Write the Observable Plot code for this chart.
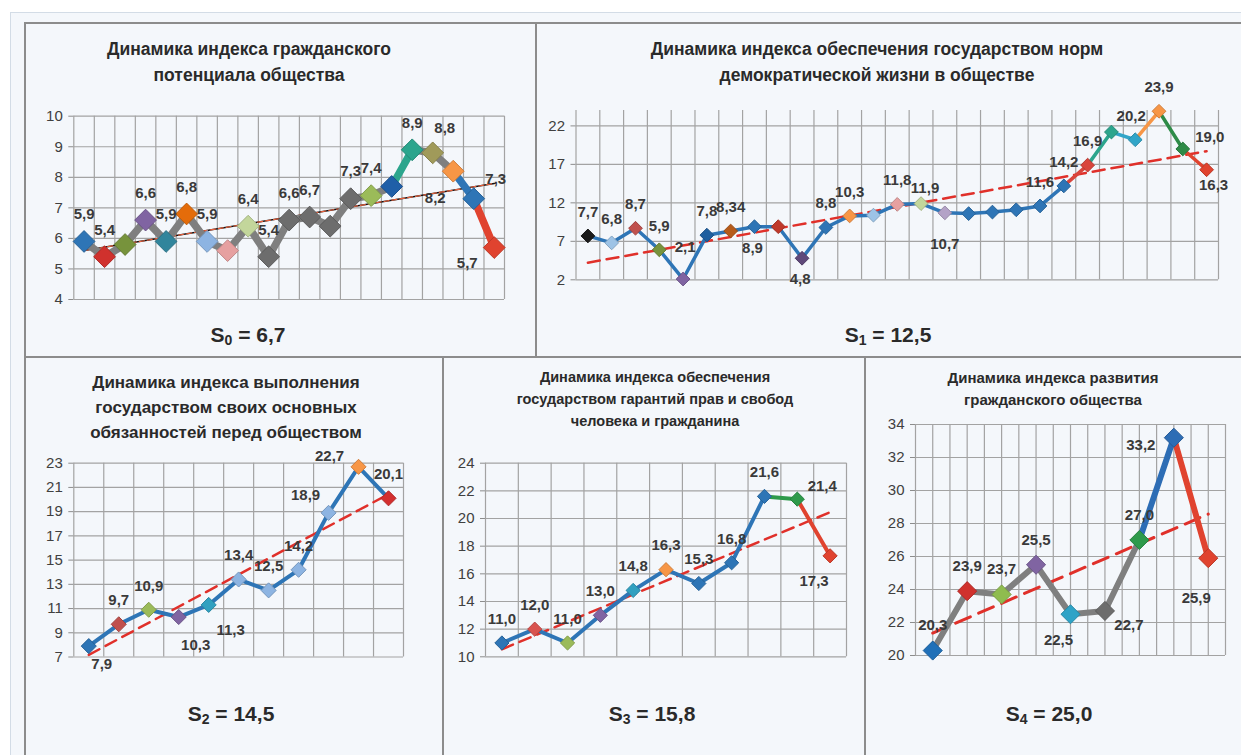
<!DOCTYPE html>
<html>
<head>
<meta charset="utf-8">
<script src="https://cdn.jsdelivr.net/npm/d3@7"></script>
<script src="https://cdn.jsdelivr.net/npm/@observablehq/plot@0.6"></script>
<style>
  body { margin: 0; background: #fff; font-family: "Liberation Sans", Arial, sans-serif; }
  #board { position: relative; width: 1241px; height: 755px; overflow: hidden; }
  .sheet { position: absolute; left: 10px; top: 12px; right: 0; bottom: 0; background: #f4f7fb;
           border-left: 1px solid #d3dce6; border-top: 1px solid #d3dce6; }
  .rule { position: absolute; background: #8c8c8c; }
  .title { position: absolute; transform: translateX(-50%); text-align: center; font-weight: bold;
           color: #2a2a2a; white-space: nowrap; }
  .score { position: absolute; transform: translate(-50%, -50%); font-weight: bold; font-size: 21px;
           color: #2a2a2a; white-space: nowrap; }
  .score sub { font-size: 14px; vertical-align: -3px; }
  .chart { position: absolute; }
</style>
</head>
<body>
<div id="board"><div class="sheet"></div></div>
<script>
// ---- Index values -------------------------------------------------------
const civicPotential   = [5.9, 5.4, 5.8, 6.6, 5.9, 6.8, 5.9, 5.6, 6.4, 5.4, 6.6, 6.7, 6.4, 7.3, 7.4, 7.7, 8.9, 8.8, 8.2, 7.3, 5.7];
const democraticNorms  = [7.7, 6.8, 8.7, 5.9, 2.1, 7.8, 8.34, 8.9, 8.9, 4.8, 8.8, 10.3, 10.4, 11.8, 11.9, 10.7, 10.6, 10.8, 11.1, 11.6, 14.2, 16.9, 21.2, 20.2, 23.9, 19.0, 16.3];
const stateDuties      = [7.9, 9.7, 10.9, 10.3, 11.3, 13.4, 12.5, 14.2, 18.9, 22.7, 20.1];
const rightsGuarantees = [11.0, 12.0, 11.0, 13.0, 14.8, 16.3, 15.3, 16.8, 21.6, 21.4, 17.3];
const civilSociety     = [20.3, 23.9, 23.7, 25.5, 22.5, 22.7, 27.0, 33.2, 25.9];

// ---- Axis ticks ---------------------------------------------------------
const ticksCivic    = [4, 5, 6, 7, 8, 9, 10];
const ticksNorms    = [2, 7, 12, 17, 22];
const ticksDuties   = [7, 9, 11, 13, 15, 17, 19, 21, 23];
const ticksRights   = [10, 12, 14, 16, 18, 20, 22, 24];
const ticksSociety  = [20, 22, 24, 26, 28, 30, 32, 34];

// ---- Titles and summary scores -----------------------------------------
const titleCivic   = ["Динамика индекса гражданского", "потенциала общества"];
const titleNorms   = ["Динамика индекса обеспечения государством норм", "демократической жизни в обществе"];
const titleDuties  = ["Динамика индекса выполнения", "государством своих основных", "обязанностей перед обществом"];
const titleRights  = ["Динамика индекса обеспечения", "государством гарантий прав и свобод", "человека и гражданина"];
const titleSociety = ["Динамика индекса развития", "гражданского общества"];
const scoreNames   = ["0", "1", "2", "3", "4"];
const scoreValues  = ["6,7", "12,5", "14,5", "15,8", "25,0"];

// ---- Marker and segment colours ----------------------------------------
const B = "#2e75b6", G = "#7f7f7f", R = "#e0432f";
const markersCivic = ["#2e75b6", "#d0312d", "#77933c", "#8064a2", "#31859c", "#e46c0a", "#8db4e2", "#e6a0a0", "#c3d69b",
  "#6d6d6d", "#6d6d6d", "#6d6d6d", "#6d6d6d", "#6d6d6d", "#9bbb59", "#1f5fa8", "#2ca58d", "#a09a5a", "#f79646", "#2e75b6", R];
const segmentsCivic = [G, G, G, G, G, G, G, G, G, G, G, G, G, G, G, "#2ca58d", G, G, B, R];
const markersNorms = ["#1a1a1a", "#9dc3e6", "#c0504d", "#77933c", "#8064a2", "#1f5f9f", "#b65b1a", B, "#c0392b", "#5f497a",
  B, "#f79646", "#9dc3e6", "#e6a0a0", "#c3d69b", "#b3a2c7", B, B, B, B, B, "#d9453c", "#2ca58d", "#31a5c8", "#f79646", "#2e8b47", R];
const segmentsNorms = [B, B, B, B, B, B, B, B, B, B, B, B, B, B, B, B, B, B, B, B, "#d9453c", "#2ca58d", "#31a5c8", "#f79646", "#2e8b47", R];
const markersDuties = [B, "#c0504d", "#9bbb59", "#8064a2", "#31a0c0", "#8db4e2", "#8db4e2", "#8db4e2", "#8db4e2", "#f79646", "#d32f2f"];
const segmentsDuties = [B, B, B, B, B, B, B, B, B, B];
const markersRights = [B, "#d9534f", "#9bbb59", "#8064a2", "#31a0c0", "#f79646", B, B, B, "#2e9a4b", R];
const segmentsRights = [B, B, B, B, B, B, B, B, "#2e9a4b", R];
const markersSociety = ["#2070b8", "#d0312d", "#8fbc4f", "#8064a2", "#2ea3c7", "#6d6d6d", "#2e9a4b", "#2d6db5", R];
const segmentsSociety = [G, G, G, G, G, G, "#2d6db5", R];

// ---- Value label placement (code per point, "" = no label) -------------
const placeCivic   = ["t","t","","t","t","t","t","","t","t","t","t","","t","t","","t","tr","bl","r","l"];
const placeNorms   = ["t","t","t","t","T","t","t","b","","b","t","t","","t","tt","B","","","","t","t","t","","tl","t","r","br"];
const placeDuties  = ["br","t","t","br2","br3","t","t","t","tl","l","t"];
const placeRights  = ["t","t","t","t","t","t","t","t","t","tr","bl"];
const placeSociety = ["t","t","t","t","bl","br","t","l","B"];

const FONT = '"Liberation Sans", Arial, sans-serif';
const GRID = "#a3a3a3";
const fmt = v => (Math.abs(v * 10 - Math.round(v * 10)) < 1e-9 ? v.toFixed(1) : String(v)).replace(".", ",");
const board = document.getElementById("board");

function drawPanel(p) {
  const n = p.values.length;
  const pts = p.values.map((v, i) => ({x: i + 0.5, y: v, label: fmt(v), color: p.markers[i], pos: p.place[i]}));
  const segs = d3.pairs(pts).map(([a, b], i) => ({x1: a.x, y1: a.y, x2: b.x, y2: b.y, color: p.segments[i]}));
  const gridX = d3.range(0, n + 1e-9, p.gridStep);
  const [L, T, W, H] = p.box;
  const [ax0, ax1, ay0, ay1] = p.area;
  const labels = Object.entries(p.offsets).map(([code, [dx, dy]]) =>
    Plot.text(pts.filter(d => d.pos === code), {
      x: "x", y: "y", text: "label", dx, dy, fontSize: 15, fontWeight: "bold", fill: "#3a3a3a"
    }));
  const svg = Plot.plot({
    width: W, height: H,
    marginLeft: ax0 - L, marginRight: L + W - ax1, marginTop: ay0 - T, marginBottom: T + H - ay1,
    x: {domain: [0, n], axis: null},
    y: {domain: p.yDomain, ticks: p.ticks, tickSize: 5, tickPadding: 6, label: null, tickFormat: d => String(d)},
    color: {type: "identity"},
    style: {background: "transparent", fontFamily: FONT, fontSize: "15px", color: "#8c8c8c", overflow: "visible"},
    marks: [
      Plot.ruleY(p.ticks, {stroke: GRID, strokeWidth: 1.2}),
      Plot.ruleX(gridX, {y1: p.yDomain[0], y2: p.yDomain[1], stroke: GRID, strokeWidth: 1.2}),
      ...p.trend.map(t => Plot.linearRegressionY(pts, {x: "x", y: "y", ci: 0, ...t})),
      Plot.link(segs, {x1: "x1", y1: "y1", x2: "x2", y2: "y2", stroke: "color", strokeWidth: p.lineWidth,
        strokeLinecap: "round", ariaLabel: "series-line"}),
      Plot.dot(pts, {x: "x", y: "y", fill: "color", stroke: d => d3.color(d.color).darker(0.5).formatHex(),
        strokeWidth: 1, symbol: "diamond2", r: p.r, ariaLabel: "series-marker"}),
      ...labels
    ]
  });
  svg.querySelectorAll('[aria-label^="y-axis"] text').forEach(t => {
    t.style.fill = "#404040";
    t.style.fontSize = "15px";
  });
  svg.querySelectorAll('[aria-label="series-line"], [aria-label="series-marker"]').forEach(g => {
    g.style.filter = "drop-shadow(1.5px 2px 1.5px rgba(0,0,0,0.35))";
  });
  svg.classList.add("chart");
  svg.style.left = L + "px";
  svg.style.top = T + "px";
  board.appendChild(svg);
}

const redDash = [{stroke: "#e0302a", strokeWidth: 2.5, strokeDasharray: "12,7"}];

drawPanel({
  values: civicPotential, markers: markersCivic, segments: segmentsCivic, place: placeCivic,
  offsets: {t: [0, -27], tr: [12, -25], bl: [-18, 27], r: [22, -19], l: [-27, 16]},
  ticks: ticksCivic, yDomain: [4, 10], gridStep: 1,
  box: [25, 95, 505, 225], area: [73.3, 504, 115.7, 299],
  lineWidth: 7.5, r: 9.8,
  trend: [{stroke: "#111", strokeWidth: 1.6}, {stroke: "#e8603c", strokeWidth: 1.2, strokeDasharray: "5,3"}]
});
drawPanel({
  values: democraticNorms, markers: markersNorms, segments: segmentsNorms, place: placeNorms,
  offsets: {t: [0, -24], T: [2, -32], b: [-2, 21], B: [0, 31], tt: [4, -15], tl: [-4, -24], r: [27, -12], br: [7, 15]},
  ticks: ticksNorms, yDomain: [2, 24], gridStep: 1,
  box: [537, 90, 703, 210], area: [575.5, 1218, 110, 279.3],
  lineWidth: 3.5, r: 6.2, trend: redDash
});
drawPanel({
  values: stateDuties, markers: markersDuties, segments: segmentsDuties, place: placeDuties,
  offsets: {t: [0, -24], br: [13, 18], br2: [17, 28], br3: [22, 25], tl: [-23, -18], l: [-29, -11]},
  ticks: ticksDuties, yDomain: [7, 23], gridStep: 1,
  box: [25, 445, 410, 230], area: [73.3, 403, 462.7, 656.5],
  lineWidth: 4, r: 6.8, trend: redDash
});
drawPanel({
  values: rightsGuarantees, markers: markersRights, segments: segmentsRights, place: placeRights,
  offsets: {t: [0, -24], tr: [25, -13], bl: [-16, 25]},
  ticks: ticksRights, yDomain: [10, 24], gridStep: 1,
  box: [444, 445, 420, 230], area: [485, 846, 462.7, 656.3],
  lineWidth: 4, r: 6.4, trend: redDash
});
drawPanel({
  values: civilSociety, markers: markersSociety, segments: segmentsSociety, place: placeSociety,
  offsets: {t: [0, -25], bl: [-12, 26], br: [24, 14], l: [-33, 7], B: [-12, 40]},
  ticks: ticksSociety, yDomain: [20, 34], gridStep: 0.5,
  box: [866, 405, 374, 270], area: [915, 1225, 424, 655],
  lineWidth: 6, r: 8.6,
  trend: [{stroke: "#e0302a", strokeWidth: 3, strokeDasharray: "16,9"}]
});

// ---- Panel frame lines ---------------------------------------------------
function rule(x, y, w, h) {
  const d = document.createElement("div");
  d.className = "rule";
  Object.assign(d.style, {left: x + "px", top: y + "px", width: w + "px", height: h + "px"});
  board.appendChild(d);
}
rule(24, 22, 1217, 2);
rule(24, 22, 2, 733);
rule(535, 22, 2, 335);
rule(24, 356, 1217, 2);
rule(442, 356, 2, 399);
rule(864, 356, 2, 399);

// ---- Titles ---------------------------------------------------------------
function title(lines, x, y, size, lh) {
  const d = document.createElement("div");
  d.className = "title";
  Object.assign(d.style, {left: x + "px", top: (y - lh / 2) + "px", fontSize: size + "px", lineHeight: lh + "px"});
  d.innerHTML = lines.join("<br>");
  board.appendChild(d);
}
title(titleCivic, 249, 49, 17.5, 26);
title(titleNorms, 877, 49, 17.5, 26);
title(titleDuties, 226, 382, 17, 25);
title(titleRights, 655, 377, 14.5, 22);
title(titleSociety, 1053, 378, 15, 22);

const scorePos = [[248, 335], [888, 335], [231, 714], [652, 714], [1049, 714]];
scoreNames.forEach((s, i) => {
  const d = document.createElement("div");
  d.className = "score";
  Object.assign(d.style, {left: scorePos[i][0] + "px", top: scorePos[i][1] + "px"});
  d.innerHTML = `S<sub>${s}</sub> = ${scoreValues[i]}`;
  board.appendChild(d);
});
</script>
</body>
</html>
